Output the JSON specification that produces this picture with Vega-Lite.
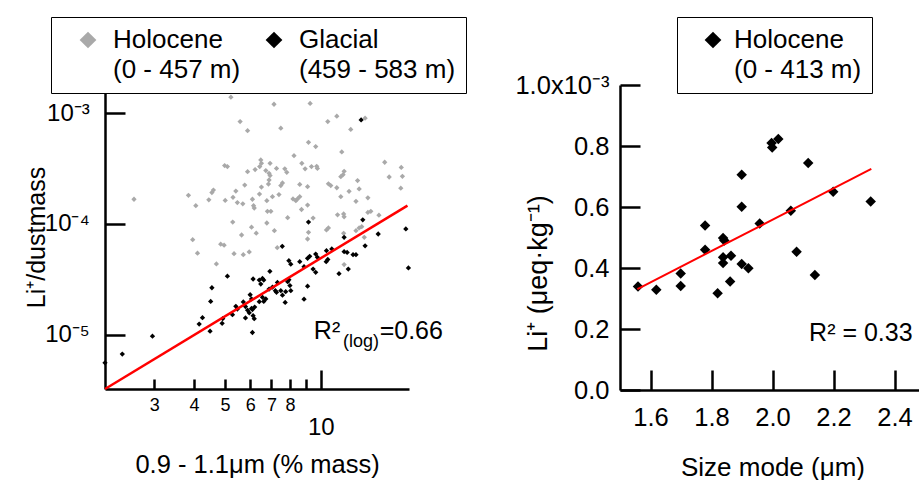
{
  "$schema": "https://vega.github.io/schema/vega-lite/v6.json",
  "autosize": {"type": "pad"},
  "padding": {"left": 23, "top": 16, "right": 0, "bottom": 0},
  "spacing": 47,
  "config": {
    "font": "Liberation Sans",
    "view": {"stroke": null},
    "axis": {"grid": false, "domainColor": "black", "domainWidth": 2.5, "tickColor": "black", "tickWidth": 2.5, "labelColor": "black", "titleColor": "black", "titleFontWeight": "normal", "labelOverlap": false, "labelFlush": false},
    "legend": {"labelColor": "black"},
    "style": {"guide-label": {"lineHeight": 30}}
  },
  "datasets": {
    "left": [
      {"x": 5.22, "y": 1.39e-3, "period": "Holocene"},
      {"x": 5.58, "y": 8.37e-4, "period": "Holocene"},
      {"x": 5.89, "y": 6.94e-4, "period": "Holocene"},
      {"x": 4.99, "y": 3.36e-4, "period": "Holocene"},
      {"x": 5.09, "y": 3.29e-4, "period": "Holocene"},
      {"x": 5.89, "y": 2.96e-4, "period": "Holocene"},
      {"x": 6.22, "y": 3.09e-4, "period": "Holocene"},
      {"x": 2.59, "y": 1.67e-4, "period": "Holocene"},
      {"x": 3.84, "y": 1.81e-4, "period": "Holocene"},
      {"x": 4.05, "y": 1.46e-4, "period": "Holocene"},
      {"x": 4.45, "y": 1.65e-4, "period": "Holocene"},
      {"x": 4.55, "y": 1.92e-4, "period": "Holocene"},
      {"x": 4.60, "y": 2.02e-4, "period": "Holocene"},
      {"x": 5.01, "y": 1.63e-4, "period": "Holocene"},
      {"x": 5.30, "y": 1.74e-4, "period": "Holocene"},
      {"x": 5.41, "y": 1.98e-4, "period": "Holocene"},
      {"x": 5.77, "y": 2.24e-4, "period": "Holocene"},
      {"x": 5.47, "y": 1.56e-4, "period": "Holocene"},
      {"x": 5.69, "y": 1.52e-4, "period": "Holocene"},
      {"x": 6.10, "y": 1.67e-4, "period": "Holocene"},
      {"x": 6.15, "y": 1.46e-4, "period": "Holocene"},
      {"x": 6.18, "y": 1.39e-4, "period": "Holocene"},
      {"x": 6.42, "y": 1.86e-4, "period": "Holocene"},
      {"x": 5.29, "y": 1.04e-4, "period": "Holocene"},
      {"x": 6.06, "y": 9.36e-5, "period": "Holocene"},
      {"x": 6.27, "y": 8.26e-5, "period": "Holocene"},
      {"x": 5.64, "y": 7.95e-5, "period": "Holocene"},
      {"x": 3.96, "y": 7.22e-5, "period": "Holocene"},
      {"x": 9.15, "y": 5.44e-4, "period": "Holocene"},
      {"x": 9.64, "y": 4.98e-4, "period": "Holocene"},
      {"x": 8.24, "y": 4.13e-4, "period": "Holocene"},
      {"x": 6.48, "y": 3.78e-4, "period": "Holocene"},
      {"x": 6.51, "y": 3.52e-4, "period": "Holocene"},
      {"x": 6.93, "y": 3.52e-4, "period": "Holocene"},
      {"x": 6.43, "y": 3.29e-4, "period": "Holocene"},
      {"x": 6.72, "y": 3.03e-4, "period": "Holocene"},
      {"x": 6.88, "y": 2.86e-4, "period": "Holocene"},
      {"x": 6.93, "y": 2.73e-4, "period": "Holocene"},
      {"x": 7.26, "y": 3.17e-4, "period": "Holocene"},
      {"x": 7.71, "y": 3.14e-4, "period": "Holocene"},
      {"x": 7.82, "y": 2.92e-4, "period": "Holocene"},
      {"x": 8.72, "y": 3.52e-4, "period": "Holocene"},
      {"x": 8.93, "y": 3.14e-4, "period": "Holocene"},
      {"x": 9.35, "y": 3.29e-4, "period": "Holocene"},
      {"x": 9.71, "y": 3.31e-4, "period": "Holocene"},
      {"x": 9.76, "y": 3.17e-4, "period": "Holocene"},
      {"x": 6.88, "y": 2.49e-4, "period": "Holocene"},
      {"x": 6.85, "y": 2.29e-4, "period": "Holocene"},
      {"x": 7.58, "y": 2.34e-4, "period": "Holocene"},
      {"x": 7.49, "y": 2.22e-4, "period": "Holocene"},
      {"x": 8.59, "y": 2.27e-4, "period": "Holocene"},
      {"x": 9.09, "y": 2.17e-4, "period": "Holocene"},
      {"x": 10.57, "y": 2.30e-4, "period": "Holocene"},
      {"x": 6.51, "y": 2.15e-4, "period": "Holocene"},
      {"x": 6.77, "y": 1.62e-4, "period": "Holocene"},
      {"x": 7.05, "y": 1.76e-4, "period": "Holocene"},
      {"x": 7.39, "y": 1.84e-4, "period": "Holocene"},
      {"x": 8.18, "y": 1.68e-4, "period": "Holocene"},
      {"x": 8.35, "y": 1.62e-4, "period": "Holocene"},
      {"x": 8.45, "y": 1.68e-4, "period": "Holocene"},
      {"x": 8.59, "y": 1.76e-4, "period": "Holocene"},
      {"x": 9.09, "y": 1.48e-4, "period": "Holocene"},
      {"x": 8.70, "y": 1.35e-4, "period": "Holocene"},
      {"x": 6.80, "y": 1.30e-4, "period": "Holocene"},
      {"x": 6.97, "y": 1.30e-4, "period": "Holocene"},
      {"x": 7.87, "y": 1.14e-4, "period": "Holocene"},
      {"x": 6.77, "y": 1.02e-4, "period": "Holocene"},
      {"x": 7.15, "y": 8.70e-5, "period": "Holocene"},
      {"x": 4.85, "y": 6.57e-5, "period": "Holocene"},
      {"x": 4.97, "y": 6.43e-5, "period": "Holocene"},
      {"x": 9.46, "y": 1.13e-4, "period": "Holocene"},
      {"x": 9.15, "y": 8.40e-5, "period": "Holocene"},
      {"x": 9.09, "y": 7.32e-5, "period": "Holocene"},
      {"x": 10.42, "y": 8.83e-5, "period": "Holocene"},
      {"x": 10.57, "y": 9.21e-5, "period": "Holocene"},
      {"x": 7.13, "y": 1.20e-3, "period": "Holocene"},
      {"x": 9.26, "y": 1.22e-3, "period": "Holocene"},
      {"x": 11.23, "y": 9.37e-4, "period": "Holocene"},
      {"x": 10.52, "y": 8.37e-4, "period": "Holocene"},
      {"x": 13.78, "y": 8.98e-4, "period": "Holocene"},
      {"x": 7.49, "y": 7.30e-4, "period": "Holocene"},
      {"x": 12.42, "y": 7.12e-4, "period": "Holocene"},
      {"x": 11.64, "y": 4.46e-4, "period": "Holocene"},
      {"x": 15.88, "y": 3.60e-4, "period": "Holocene"},
      {"x": 17.9, "y": 3.23e-4, "period": "Holocene"},
      {"x": 11.84, "y": 2.98e-4, "period": "Holocene"},
      {"x": 11.75, "y": 2.78e-4, "period": "Holocene"},
      {"x": 11.56, "y": 2.67e-4, "period": "Holocene"},
      {"x": 16.4, "y": 2.65e-4, "period": "Holocene"},
      {"x": 18.05, "y": 2.69e-4, "period": "Holocene"},
      {"x": 13.05, "y": 2.46e-4, "period": "Holocene"},
      {"x": 10.75, "y": 2.22e-4, "period": "Holocene"},
      {"x": 11.23, "y": 2.12e-4, "period": "Holocene"},
      {"x": 17.84, "y": 2.10e-4, "period": "Holocene"},
      {"x": 13.2, "y": 2.07e-4, "period": "Holocene"},
      {"x": 12.27, "y": 1.97e-4, "period": "Holocene"},
      {"x": 11.56, "y": 1.76e-4, "period": "Holocene"},
      {"x": 12.9, "y": 1.60e-4, "period": "Holocene"},
      {"x": 14.06, "y": 1.72e-4, "period": "Holocene"},
      {"x": 11.29, "y": 1.21e-4, "period": "Holocene"},
      {"x": 11.8, "y": 1.23e-4, "period": "Holocene"},
      {"x": 11.84, "y": 1.16e-4, "period": "Holocene"},
      {"x": 14.06, "y": 1.27e-4, "period": "Holocene"},
      {"x": 14.36, "y": 1.30e-4, "period": "Holocene"},
      {"x": 15.23, "y": 1.20e-4, "period": "Holocene"},
      {"x": 13.2, "y": 9.21e-5, "period": "Holocene"},
      {"x": 13.45, "y": 9.46e-5, "period": "Holocene"},
      {"x": 12.9, "y": 8.70e-5, "period": "Holocene"},
      {"x": 11.8, "y": 8.23e-5, "period": "Holocene"},
      {"x": 13.7, "y": 7.57e-5, "period": "Holocene"},
      {"x": 7.3, "y": 6.11e-5, "period": "Holocene"},
      {"x": 4.10, "y": 5.45e-5, "period": "Holocene"},
      {"x": 4.70, "y": 4.36e-5, "period": "Holocene"},
      {"x": 5.34, "y": 5.39e-5, "period": "Holocene"},
      {"x": 5.71, "y": 5.28e-5, "period": "Holocene"},
      {"x": 5.96, "y": 5.59e-5, "period": "Holocene"},
      {"x": 11.84, "y": 4.30e-5, "period": "Holocene"},
      {"x": 13.39, "y": 8.67e-4, "period": "Glacial"},
      {"x": 9.15, "y": 1.04e-4, "period": "Glacial"},
      {"x": 13.55, "y": 1.09e-4, "period": "Glacial"},
      {"x": 18.5, "y": 9.02e-5, "period": "Glacial"},
      {"x": 11.84, "y": 7.57e-5, "period": "Glacial"},
      {"x": 15.15, "y": 8.12e-5, "period": "Glacial"},
      {"x": 18.85, "y": 4.01e-5, "period": "Glacial"},
      {"x": 7.57, "y": 6.29e-5, "period": "Glacial"},
      {"x": 13.78, "y": 6.35e-5, "period": "Glacial"},
      {"x": 10.83, "y": 5.95e-5, "period": "Glacial"},
      {"x": 10.42, "y": 5.74e-5, "period": "Glacial"},
      {"x": 11.84, "y": 5.62e-5, "period": "Glacial"},
      {"x": 12.1, "y": 5.54e-5, "period": "Glacial"},
      {"x": 12.63, "y": 5.28e-5, "period": "Glacial"},
      {"x": 12.9, "y": 5.28e-5, "period": "Glacial"},
      {"x": 9.64, "y": 5.35e-5, "period": "Glacial"},
      {"x": 9.76, "y": 5.00e-5, "period": "Glacial"},
      {"x": 9.23, "y": 5.11e-5, "period": "Glacial"},
      {"x": 9.09, "y": 4.90e-5, "period": "Glacial"},
      {"x": 8.59, "y": 4.57e-5, "period": "Glacial"},
      {"x": 7.94, "y": 4.67e-5, "period": "Glacial"},
      {"x": 8.05, "y": 4.34e-5, "period": "Glacial"},
      {"x": 10.52, "y": 4.78e-5, "period": "Glacial"},
      {"x": 10.4, "y": 4.57e-5, "period": "Glacial"},
      {"x": 9.46, "y": 3.92e-5, "period": "Glacial"},
      {"x": 9.64, "y": 3.66e-5, "period": "Glacial"},
      {"x": 6.92, "y": 3.74e-5, "period": "Glacial"},
      {"x": 11.41, "y": 3.56e-5, "period": "Glacial"},
      {"x": 12.2, "y": 3.92e-5, "period": "Glacial"},
      {"x": 6.56, "y": 3.23e-5, "period": "Glacial"},
      {"x": 6.41, "y": 3.12e-5, "period": "Glacial"},
      {"x": 6.62, "y": 3.12e-5, "period": "Glacial"},
      {"x": 7.87, "y": 3.02e-5, "period": "Glacial"},
      {"x": 8.0, "y": 2.78e-5, "period": "Glacial"},
      {"x": 9.09, "y": 2.75e-5, "period": "Glacial"},
      {"x": 7.94, "y": 3.14e-5, "period": "Glacial"},
      {"x": 6.88, "y": 2.59e-5, "period": "Glacial"},
      {"x": 7.2, "y": 2.50e-5, "period": "Glacial"},
      {"x": 7.49, "y": 2.50e-5, "period": "Glacial"},
      {"x": 7.26, "y": 2.42e-5, "period": "Glacial"},
      {"x": 7.76, "y": 2.45e-5, "period": "Glacial"},
      {"x": 7.58, "y": 2.28e-5, "period": "Glacial"},
      {"x": 8.86, "y": 2.10e-5, "period": "Glacial"},
      {"x": 6.06, "y": 2.11e-5, "period": "Glacial"},
      {"x": 6.56, "y": 2.18e-5, "period": "Glacial"},
      {"x": 6.72, "y": 2.11e-5, "period": "Glacial"},
      {"x": 6.41, "y": 1.99e-5, "period": "Glacial"},
      {"x": 7.73, "y": 1.96e-5, "period": "Glacial"},
      {"x": 6.06, "y": 1.73e-5, "period": "Glacial"},
      {"x": 6.13, "y": 1.49e-5, "period": "Glacial"},
      {"x": 5.09, "y": 3.38e-5, "period": "Glacial"},
      {"x": 4.55, "y": 2.66e-5, "period": "Glacial"},
      {"x": 4.51, "y": 2.00e-5, "period": "Glacial"},
      {"x": 4.25, "y": 1.43e-5, "period": "Glacial"},
      {"x": 4.15, "y": 1.25e-5, "period": "Glacial"},
      {"x": 4.49, "y": 1.08e-5, "period": "Glacial"},
      {"x": 4.92, "y": 1.40e-5, "period": "Glacial"},
      {"x": 4.90, "y": 1.27e-5, "period": "Glacial"},
      {"x": 5.28, "y": 1.52e-5, "period": "Glacial"},
      {"x": 5.41, "y": 1.81e-5, "period": "Glacial"},
      {"x": 5.47, "y": 1.71e-5, "period": "Glacial"},
      {"x": 5.71, "y": 1.98e-5, "period": "Glacial"},
      {"x": 5.80, "y": 1.80e-5, "period": "Glacial"},
      {"x": 5.89, "y": 1.67e-5, "period": "Glacial"},
      {"x": 5.96, "y": 1.58e-5, "period": "Glacial"},
      {"x": 6.10, "y": 1.69e-5, "period": "Glacial"},
      {"x": 6.20, "y": 1.78e-5, "period": "Glacial"},
      {"x": 6.00, "y": 2.30e-5, "period": "Glacial"},
      {"x": 5.80, "y": 1.42e-5, "period": "Glacial"},
      {"x": 6.18, "y": 1.40e-5, "period": "Glacial"},
      {"x": 6.10, "y": 1.05e-5, "period": "Glacial"},
      {"x": 6.13, "y": 3.19e-5, "period": "Glacial"},
      {"x": 6.48, "y": 2.87e-5, "period": "Glacial"},
      {"x": 6.62, "y": 2.00e-5, "period": "Glacial"},
      {"x": 7.05, "y": 2.69e-5, "period": "Glacial"},
      {"x": 7.31, "y": 2.97e-5, "period": "Glacial"},
      {"x": 8.05, "y": 2.50e-5, "period": "Glacial"},
      {"x": 8.86, "y": 4.12e-5, "period": "Glacial"},
      {"x": 2.96, "y": 9.73e-6, "period": "Glacial"},
      {"x": 2.38, "y": 6.71e-6, "period": "Glacial"},
      {"x": 2.1, "y": 5.60e-6, "period": "Glacial"}
    ],
    "leftfit": [
      {"x": 2.1, "y": 3.25e-6},
      {"x": 18.72, "y": 1.463e-4}
    ],
    "right": [
      {"x": 1.559, "y": 0.000339, "series": "Holocene"},
      {"x": 1.619, "y": 0.000329, "series": "Holocene"},
      {"x": 1.699, "y": 0.000382, "series": "Holocene"},
      {"x": 1.699, "y": 0.000341, "series": "Holocene"},
      {"x": 1.779, "y": 0.000539, "series": "Holocene"},
      {"x": 1.779, "y": 0.000460, "series": "Holocene"},
      {"x": 1.820, "y": 0.000317, "series": "Holocene"},
      {"x": 1.838, "y": 0.000498, "series": "Holocene"},
      {"x": 1.842, "y": 0.000490, "series": "Holocene"},
      {"x": 1.838, "y": 0.000435, "series": "Holocene"},
      {"x": 1.838, "y": 0.000416, "series": "Holocene"},
      {"x": 1.864, "y": 0.000440, "series": "Holocene"},
      {"x": 1.861, "y": 0.000356, "series": "Holocene"},
      {"x": 1.899, "y": 0.000706, "series": "Holocene"},
      {"x": 1.899, "y": 0.000601, "series": "Holocene"},
      {"x": 1.899, "y": 0.000413, "series": "Holocene"},
      {"x": 1.921, "y": 0.000399, "series": "Holocene"},
      {"x": 1.958, "y": 0.000546, "series": "Holocene"},
      {"x": 1.997, "y": 0.000810, "series": "Holocene"},
      {"x": 1.999, "y": 0.000795, "series": "Holocene"},
      {"x": 2.019, "y": 0.000823, "series": "Holocene"},
      {"x": 2.060, "y": 0.000588, "series": "Holocene"},
      {"x": 2.079, "y": 0.000453, "series": "Holocene"},
      {"x": 2.117, "y": 0.000744, "series": "Holocene"},
      {"x": 2.139, "y": 0.000377, "series": "Holocene"},
      {"x": 2.199, "y": 0.000650, "series": "Holocene"},
      {"x": 2.322, "y": 0.000618, "series": "Holocene"}
    ],
    "rightfit": [
      {"x": 1.557, "y": 0.000331},
      {"x": 2.324, "y": 0.000725}
    ]
  },
  "resolve": {"scale": {"color": "independent", "x": "independent", "y": "independent"}, "legend": {"color": "independent"}},
  "hconcat": [
    {
      "width": 304,
      "height": 304,
      "layer": [
        {
          "data": {"name": "left"},
          "mark": {"type": "point", "shape": "diamond", "filled": true, "size": 28, "opacity": 1},
          "encoding": {
            "x": {
              "field": "x", "type": "quantitative",
              "scale": {"type": "log", "domain": [2.1, 18.93], "nice": false},
              "axis": {
                "values": [3, 4, 5, 6, 7, 8, 9, 10],
                "format": "d",
                "labelExpr": "datum.value == 9 ? '' : datum.label",
                "tickSize": {"condition": {"test": "datum.value == 10", "value": -19}, "value": -10},
                "labelFontSize": {"condition": {"test": "datum.value == 10", "value": 24}, "value": 18},
                "labelPadding": {"condition": {"test": "datum.value == 10", "value": 45.6}, "value": 17.7},
                "title": "0.9 - 1.1μm (% mass)",
                "titleFontSize": 25.5,
                "titleY": 63
              }
            },
            "y": {
              "field": "y", "type": "quantitative",
              "scale": {"type": "log", "domain": [3.25e-6, 1.79e-3], "nice": false},
              "axis": {
                "values": [1e-5, 1e-4, 1e-3],
                "labelExpr": "datum.value > 5e-4 ? '10⁻³' : datum.value > 5e-5 ? '10⁻⁴' : '10⁻⁵'",
                "labelFontSize": 24,
                "tickSize": -20,
                "labelPadding": 35.7,
                "title": "Li⁺/dustmass",
                "titleFontSize": 25,
                "titleX": -56,
                "titleY": 152
              }
            },
            "color": {
              "field": "period", "type": "nominal",
              "scale": {"domain": ["Holocene", "Glacial"], "range": ["#a9a9a9", "#000000"]},
              "legend": {
                "orient": "none", "legendX": -54, "legendY": -68,
                "direction": "horizontal", "columns": 2, "title": null,
                "symbolType": "diamond", "symbolSize": 280,
                "labelFontSize": 26, "labelLimit": 400, "labelBaseline": "middle",
                "labelExpr": "datum.value == 'Holocene' ? ['\u2009Holocene', '(0 - 457 m)'] : ['Glacial', '(459 - 583 m)']",
                "symbolOffset": 14, "labelOffset": 12, "columnPadding": 6, "padding": 10,
                "strokeColor": "black", "fillColor": "white"
              }
            }
          }
        },
        {
          "data": {"name": "leftfit"},
          "mark": {"type": "line", "color": "#ff0000", "strokeWidth": 2.5},
          "encoding": {
            "x": {"field": "x", "type": "quantitative"},
            "y": {"field": "y", "type": "quantitative"}
          }
        },
        {
          "data": {"values": [{"x": 9.51, "y": 9.14e-6, "t": "R²"}]},
          "mark": {"type": "text", "align": "left", "baseline": "alphabetic", "fontSize": 25, "color": "black"},
          "encoding": {"x": {"field": "x", "type": "quantitative"}, "y": {"field": "y", "type": "quantitative"}, "text": {"field": "t"}}
        },
        {
          "data": {"values": [{"x": 11.75, "y": 7.82e-6, "t": "(log)"}]},
          "mark": {"type": "text", "align": "left", "baseline": "alphabetic", "fontSize": 18, "color": "black"},
          "encoding": {"x": {"field": "x", "type": "quantitative"}, "y": {"field": "y", "type": "quantitative"}, "text": {"field": "t"}}
        },
        {
          "data": {"values": [{"x": 15.31, "y": 9.14e-6, "t": "=0.66"}]},
          "mark": {"type": "text", "align": "left", "baseline": "alphabetic", "fontSize": 25, "color": "black"},
          "encoding": {"x": {"field": "x", "type": "quantitative"}, "y": {"field": "y", "type": "quantitative"}, "text": {"field": "t"}}
        }
      ]
    },
    {
      "width": 305,
      "height": 305,
      "layer": [
        {
          "data": {"name": "right"},
          "mark": {"type": "point", "shape": "diamond", "filled": true, "size": 110, "opacity": 1},
          "encoding": {
            "x": {
              "field": "x", "type": "quantitative",
              "scale": {"domain": [1.5, 2.5], "nice": false, "zero": false},
              "axis": {
                "values": [1.6, 1.8, 2.0, 2.2, 2.4],
                "format": ".1f",
                "tickSize": -20,
                "labelPadding": 35,
                "labelFontSize": 25.5,
                "title": "Size mode (μm)",
                "titleFontSize": 26,
                "titleY": 64
              }
            },
            "y": {
              "field": "y", "type": "quantitative",
              "scale": {"domain": [0, 0.001], "nice": false},
              "axis": {
                "values": [0, 0.0002, 0.0004, 0.0006, 0.0008, 0.001],
                "labelExpr": "datum.value > 0.00099 ? '1.0x10⁻³' : format(datum.value * 1000, '.1f')",
                "tickSize": -20,
                "labelPadding": 31,
                "labelFontSize": 25.5,
                "title": "Li⁺ (μeq·kg⁻¹)",
                "titleFontSize": 27,
                "titleX": -68,
                "titleY": 188
              }
            },
            "color": {
              "field": "series", "type": "nominal",
              "scale": {"domain": ["Holocene"], "range": ["#000000"]},
              "legend": {
                "orient": "none", "legendX": 57, "legendY": -68,
                "title": null,
                "symbolType": "diamond", "symbolSize": 280,
                "labelFontSize": 26, "labelLimit": 400, "labelBaseline": "middle",
                "labelExpr": "['\u00a0\u2009Holocene', '(0 - 413 m)']",
                "symbolOffset": 13, "labelOffset": 8, "padding": 10,
                "strokeColor": "black", "fillColor": "white"
              }
            }
          }
        },
        {
          "data": {"name": "rightfit"},
          "mark": {"type": "line", "color": "#ff0000", "strokeWidth": 2},
          "encoding": {
            "x": {"field": "x", "type": "quantitative"},
            "y": {"field": "y", "type": "quantitative"}
          }
        },
        {
          "data": {"values": [{"x": 2.12, "y": 0.000162, "t": "R² = 0.33"}]},
          "mark": {"type": "text", "align": "left", "baseline": "alphabetic", "fontSize": 25, "color": "black"},
          "encoding": {"x": {"field": "x", "type": "quantitative"}, "y": {"field": "y", "type": "quantitative"}, "text": {"field": "t"}}
        }
      ]
    }
  ]
}
